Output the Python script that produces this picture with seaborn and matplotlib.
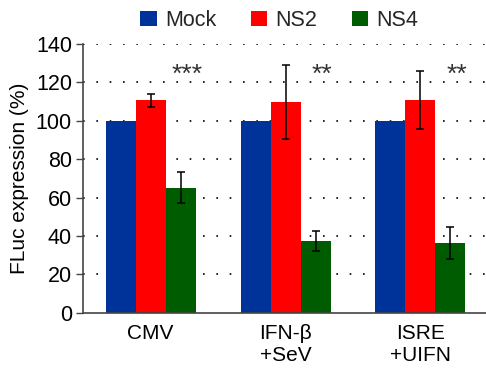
import numpy as np
import pandas as pd
import seaborn as sns
import matplotlib.pyplot as plt
from matplotlib.ticker import FixedLocator

sns.set_style("white")
plt.rcParams['font.family'] = ['Liberation Sans', 'DejaVu Sans']

promoters = ['CMV', 'IFN-β\n+SeV', 'ISRE\n+UIFN']
groups = ['Mock', 'NS2', 'NS4']
mock = [100, 100, 100]
ns2 = [110.6, 109.7, 110.6]
ns4 = [65.2, 37.4, 36.4]
ns2_err = [3.2, 19.2, 15.1]
ns4_err = [8.0, 5.0, 8.3]
stars = ['***', '**', '**']

colors = ['#003399', '#ff0000', '#005c00']

df = pd.DataFrame({
    'promoter': promoters * 3,
    'group': [g for g in groups for _ in promoters],
    'value': mock + ns2 + ns4,
})
errs = {'Mock': [0, 0, 0], 'NS2': ns2_err, 'NS4': ns4_err}

fig = plt.figure(figsize=(4.86, 3.69), dpi=100)
ax = fig.add_axes([0.171, 0.152, 0.833, 0.729])

sns.barplot(data=df, x='promoter', y='value', hue='group', palette=colors,
            saturation=1, width=0.667, errorbar=None, ax=ax, zorder=2,
            linewidth=0, edgecolor='none')

# error bars on the dodged bars
for cont, g in zip(ax.containers, groups):
    if g == 'Mock':
        continue
    xs = [p.get_x() + p.get_width() / 2 for p in cont.patches]
    ys = [p.get_height() for p in cont.patches]
    ax.errorbar(xs, ys, yerr=errs[g], fmt='none', ecolor='black',
                elinewidth=1.1, capsize=2.8, capthick=1.1, zorder=3)

# significance stars above NS4 bars
for i, s in enumerate(stars):
    ax.text(i + 0.27, 120, s, ha='center', va='baseline', fontsize=19, color='#333333')

ax.set_ylim(0, 140)
ax.set_xlim(-0.5, 2.5)
ax.set_yticks(range(0, 141, 20))
ax.yaxis.grid(True, linestyle=(0, (1, 7)), color='black', linewidth=1.2, zorder=0)
ax.get_ygridlines()[0].set_visible(False)
ax.set_axisbelow(True)

ax.xaxis.set_minor_locator(FixedLocator([0.5, 1.5]))
ax.tick_params(axis='x', which='major', length=0, labelsize=15, pad=8, labelcolor='black')
ax.tick_params(axis='x', which='minor', length=5, width=1, color='#444444', direction='out')
ax.tick_params(axis='y', length=5, width=1, color='#444444', labelsize=15.5,
               direction='out', left=True, labelcolor='black', pad=3)

for side in ['top', 'right']:
    ax.spines[side].set_visible(False)
for side in ['left', 'bottom']:
    ax.spines[side].set_color('#444444')
    ax.spines[side].set_linewidth(1.2)

ax.set_xlabel('')
ax.set_ylabel('FLuc expression (%)', fontsize=15, labelpad=5, color='black')

ax.legend(loc='lower center', bbox_to_anchor=(0.485, 1.0), ncol=3, frameon=False,
          fontsize=15.5, handlelength=0.75, handleheight=0.75, handletextpad=0.4,
          columnspacing=1.6, borderaxespad=0.2)

fig.savefig('out.png', dpi=100)
